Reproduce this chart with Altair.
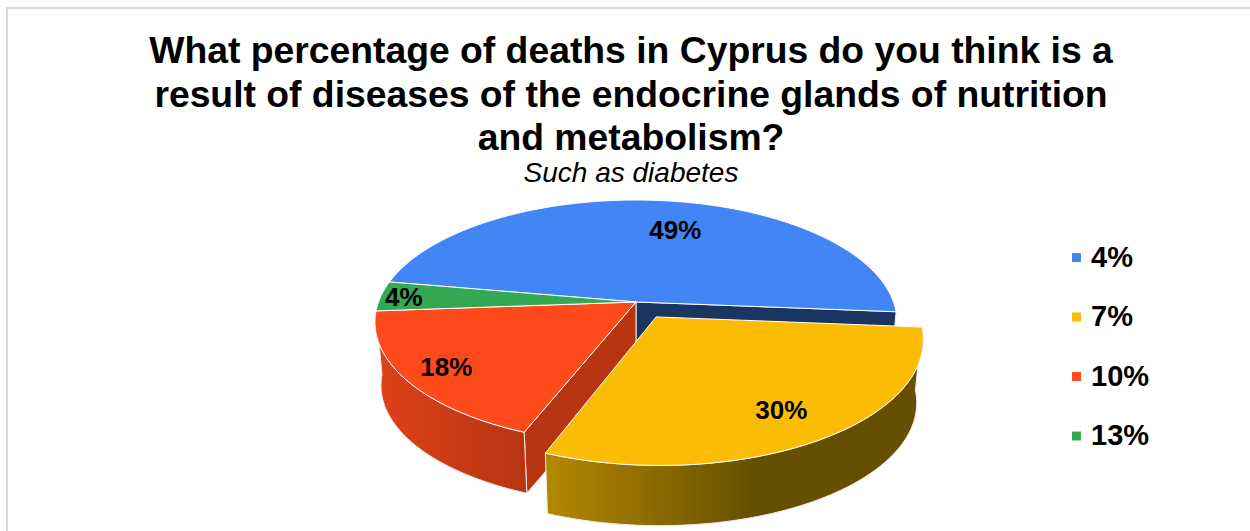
import math
import altair as alt

# Survey answers and the share of respondents who chose each one
answers = ["4%", "7%", "10%", "13%"]
shares = [49, 30, 18, 4]
share_labels = ["49%", "30%", "18%", "4%"]
top_colors = ["#4285F4", "#FBBC04", "#FF4A1B", "#34A853"]

title_lines = [
    "What percentage of deaths in Cyprus do you think is a",
    "result of diseases of the endocrine glands of nutrition",
    "and metabolism?",
]
subtitle = "Such as diabetes"

# Pie geometry: a tilted disc seen in perspective, extruded downward
FONT = "Liberation Sans"
TOP_PAD = 190
CX, CY = 636.0, 302.0
AX, BY, PERSP = 257.5, 118.7, 0.164
DROP, SHRINK = 64.0, 0.023
START_BEARING = 280.0
EXPLODE = [0.0, 0.145, 0.0, 0.0]
LABEL_RADIUS = [0.70, 0.785, 0.84, 0.91]
LABEL_TURN = [6.7, 0.0, 0.0, 0.0]


def project(bearing, radius=1.0, z=0.0, explode_at=0.0, explode=0.0):
    u = radius * math.sin(math.radians(bearing)) + explode * math.sin(math.radians(explode_at))
    v = -radius * math.cos(math.radians(bearing)) - explode * math.cos(math.radians(explode_at))
    d = 1 - PERSP * v
    s = 1 - SHRINK * z
    return [CX + AX * u / d * s, CY + DROP * z + BY * v / d * s]


def arc(a0, a1, z=0.0, **kw):
    n = max(2, int(abs(a1 - a0)) + 1)
    return [project(a0 + (a1 - a0) * i / (n - 1), z=z, **kw) for i in range(n)]


def feature(ring, **props):
    closed = ring + [ring[0]]
    return {"type": "Feature", "geometry": {"type": "Polygon", "coordinates": [closed]},
            "properties": {}, **props}


total = sum(shares)
spans = []
cursor = START_BEARING
for s in shares:
    spans.append((cursor, cursor + s / total * 360))
    cursor += s / total * 360

top_faces = []
for i, (a0, a1) in enumerate(spans):
    mid = (a0 + a1) / 2
    kw = {"explode_at": mid, "explode": EXPLODE[i]}
    apex = project(0, radius=0, **kw)
    top_faces.append(feature([apex] + arc(a0, a1, **kw), answer=answers[i], order=i))


def outer_wall(i):
    a0, a1 = spans[i]
    mid = (a0 + a1) / 2
    kw = {"explode_at": mid, "explode": EXPLODE[i]}
    return feature(arc(a0, a1, **kw) + arc(a1, a0, z=1.0, **kw))


def cut_wall(bearing):
    return feature([project(0, radius=0), project(bearing),
                    project(bearing, z=1.0), project(0, radius=0, z=1.0)])


def shape(features, **mark):
    return alt.Chart(alt.Data(values=features)).mark_geoshape(clip=False, **mark).project(
        type="identity", scale=1, translate=[0, -TOP_PAD]
    )


def ramp(*stops):
    return alt.Gradient(
        gradient="linear", x1=0, x2=1, y1=0, y2=0,
        stops=[alt.GradientStop(offset=o, color=c) for o, c in stops],
    )


edge = {"stroke": "#ECECEC", "strokeWidth": 1}

# Frame line along the left and top of the card
frame_line = {"type": "Feature", "properties": {},
              "geometry": {"type": "LineString", "coordinates": [[7, 531], [7, 8], [1250, 8]]}}
frame = shape([frame_line], filled=False, stroke="#D9D9D9", strokeWidth=2)

blue_cut = shape([cut_wall(spans[0][1] % 360)], fill="#1A3560", **edge)
red_cut = shape([cut_wall(spans[1][1])], fill="#B83512", **edge)
red_side = shape([outer_wall(2)], fill=ramp((0, "#DE4219"), (0.55, "#C93A15"), (1, "#B83512")), **edge)
gold_side = shape([outer_wall(1)], fill=ramp((0, "#B48800"), (0.55, "#665000"), (1, "#665000")), **edge)

color_scale = alt.Scale(domain=answers, range=top_colors)
legend = alt.Legend(
    orient="none", legendX=1062, legendY=53, title=None,
    symbolType="square", symbolSize=80, symbolStrokeWidth=0, symbolOpacity=1,
    labelFont=FONT, labelFontSize=29, labelFontWeight="bold", labelColor="#000000",
    labelOffset=0, rowPadding=29.5, labelLimit=200,
)
lower_faces = shape([f for f in top_faces if f["order"] != 1], stroke="#FFFFFF", strokeWidth=1).encode(
    color=alt.Color("answer:N", scale=color_scale, legend=legend)
)
gold_face = shape([f for f in top_faces if f["order"] == 1], stroke="#FFFFFF", strokeWidth=1).encode(
    color=alt.Color("answer:N", scale=color_scale, legend=legend)
)

label_rows = []
for i, (a0, a1) in enumerate(spans):
    mid = (a0 + a1) / 2
    x, y = project(mid + LABEL_TURN[i], radius=LABEL_RADIUS[i], explode_at=mid, explode=EXPLODE[i])
    label_rows.append({"lon": x, "lat": y, "text": share_labels[i]})

labels = (
    alt.Chart(alt.Data(values=label_rows))
    .mark_text(font=FONT, fontSize=26, fontWeight="bold", color="#000000",
               baseline="middle", align="center", dy=1.5)
    .encode(longitude="lon:Q", latitude="lat:Q", text="text:N")
    .project(type="identity", scale=1, translate=[0, -TOP_PAD])
)

chart = (
    alt.layer(frame, blue_cut, red_cut, red_side, gold_side, lower_faces, gold_face, labels)
    .resolve_scale(color="shared")
    .properties(
        width=1250,
        height=531 - TOP_PAD,
        padding={"top": TOP_PAD, "left": 0, "right": 0, "bottom": 0},
        autosize=alt.AutoSizeParams(type="none"),
        # The frame line reaches above the plot area, so the offset is measured back down from it
        title=alt.TitleParams(
            text=title_lines, subtitle=subtitle,
            font=FONT, fontSize=37.3, fontWeight="bold", color="#000000", lineHeight=43.5,
            subtitleFont=FONT, subtitleFontSize=28, subtitleFontStyle="italic",
            subtitleColor="#000000", subtitlePadding=1.5,
            anchor="middle", offset=-185, dx=6,
        ),
    )
    .configure_view(stroke=None)
)

chart.save("out.html", embed_options={"renderer": "svg", "actions": False})
